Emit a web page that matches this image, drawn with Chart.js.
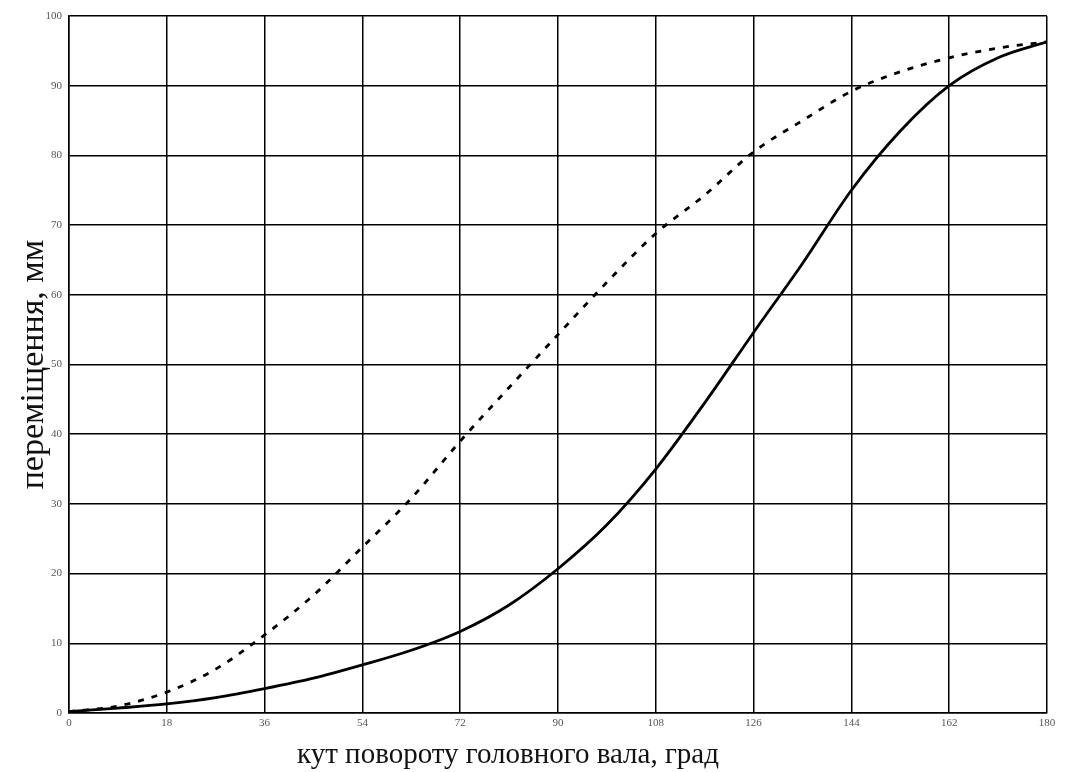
<!DOCTYPE html>
<html>
<head>
<meta charset="utf-8">
<script src="https://cdn.jsdelivr.net/npm/chart.js@4"></script>
<style>
  html, body { margin: 0; padding: 0; background: #fff; }
  #wrap { width: 1065px; height: 772px; position: relative; }
</style>
</head>
<body>
<div id="wrap"><canvas id="moveChart"></canvas></div>
<script>
// Кут повороту, град
const angles = [0, 9, 18, 27, 36, 45, 54, 63, 72, 81, 90, 99, 108, 117, 126, 135, 144, 153, 162, 171, 180];
// Суцільна крива
const solidMove = [0.2, 0.7, 1.3, 2.2, 3.5, 5.0, 6.9, 9.0, 11.7, 15.5, 20.7, 27.0, 35.0, 44.5, 54.6, 64.5, 75.0, 83.5, 90.0, 94.0, 96.3];
// Штрихова крива
const dashedMove = [0.2, 1.0, 3.0, 6.3, 11.2, 16.9, 23.8, 30.8, 39.0, 46.7, 54.3, 61.8, 68.8, 74.3, 80.5, 85.0, 89.2, 92.0, 94.0, 95.4, 96.3];
const xTicks = [0, 18, 36, 54, 72, 90, 108, 126, 144, 162, 180];
const yTicks = [0, 10, 20, 30, 40, 50, 60, 70, 80, 90, 100];

const xTitle = 'кут повороту головного вала, град';
const yTitle = 'переміщення, мм';

const toPoints = (ys) => angles.map((a, i) => ({ x: a, y: ys[i] }));

// Підписи осей малюємо вручну
const axisTitles = {
  id: 'axisTitles',
  afterDraw(chart) {
    const { ctx, chartArea } = chart;
    ctx.save();
    ctx.fillStyle = '#111';
    ctx.textAlign = 'center';
    ctx.textBaseline = 'alphabetic';
    ctx.font = '29px "Liberation Serif", "Times New Roman", serif';
    ctx.fillText(xTitle, 508, 763);
    ctx.font = '34px "Liberation Serif", "Times New Roman", serif';
    ctx.translate(43, (chartArea.top + chartArea.bottom) / 2);
    ctx.rotate(-Math.PI / 2);
    ctx.fillText(yTitle, 0, 0);
    ctx.restore();
  }
};

const ctx = document.getElementById('moveChart').getContext('2d');
const moveChart = new Chart(ctx, {
  type: 'line',
  data: {
    datasets: [{
      data: toPoints(solidMove),
      borderColor: '#000',
      borderWidth: 2.8,
      pointRadius: 0,
      cubicInterpolationMode: 'monotone'
    }, {
      data: toPoints(dashedMove),
      borderColor: '#000',
      borderWidth: 2.8,
      borderDash: [6, 8],
      pointRadius: 0,
      cubicInterpolationMode: 'monotone'
    }]
  },
  options: {
    responsive: true,
    maintainAspectRatio: false,
    animation: false,
    layout: { padding: { top: 16, right: 18, left: 0, bottom: 0 } },
    plugins: {
      legend: { display: false },
      tooltip: { enabled: false }
    },
    scales: {
      x: {
        type: 'linear',
        min: 0,
        max: 180,
        afterFit: (scale) => { scale.height = 59; },
        afterBuildTicks: (scale) => { scale.ticks = xTicks.map(v => ({ value: v })); },
        grid: { color: '#000', lineWidth: 1.5, drawTicks: false },
        border: { color: '#000', width: 1.5 },
        ticks: {
          padding: 4,
          color: '#555',
          font: { family: '"Liberation Serif", serif', size: 11 },
          maxRotation: 0
        }
      },
      y: {
        min: 0,
        max: 100,
        afterFit: (scale) => { scale.width = 69; },
        afterBuildTicks: (scale) => { scale.ticks = yTicks.map(v => ({ value: v })); },
        grid: { color: '#000', lineWidth: 1.5, drawTicks: false },
        border: { color: '#000', width: 1.5 },
        ticks: {
          padding: 7,
          color: '#555',
          font: { family: '"Liberation Serif", serif', size: 11 }
        }
      }
    }
  },
  plugins: [axisTitles]
});
</script>
</body>
</html>
